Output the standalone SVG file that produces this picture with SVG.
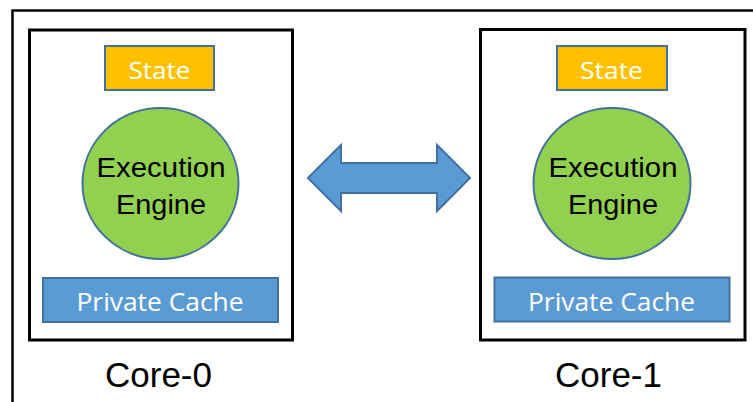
<svg xmlns="http://www.w3.org/2000/svg" width="753" height="402" viewBox="0 0 753 402">
<style>
.frame{fill:none;stroke:#000;stroke-width:2.5}
.core{fill:#fff;stroke:#000;stroke-width:3}
.state{fill:#FFC000;stroke:#41719C;stroke-width:2}
.engine{fill:#92D050;stroke:#41719C;stroke-width:2}
.cache{fill:#5B9BD5;stroke:#41719C;stroke-width:2}
.wt{fill:#fff;font-family:"Open Sans","Noto Sans",sans-serif;text-anchor:middle}
.bt{fill:#000;font-family:"Liberation Sans",Arial,sans-serif;text-anchor:middle}
.arrow{fill:#5B9BD5;stroke:#41719C;stroke-width:2;stroke-linejoin:miter}
</style>
<rect width="753" height="402" fill="#fff"/>
<path class="frame" d="M12.5 402 V10.5 H753"/>
<g id="core0">
<rect class="core" x="29.5" y="30" width="263" height="310"/>
<g id="state0"><rect class="state" x="105" y="46" width="109" height="44"/><text class="wt" x="159.5" y="78.5" font-size="23.5" textLength="62" lengthAdjust="spacingAndGlyphs">State</text></g>
<g id="engine0"><ellipse class="engine" cx="160.5" cy="183.5" rx="78" ry="75.5"/><text class="bt" x="161" y="177" font-size="28" textLength="129" lengthAdjust="spacingAndGlyphs">Execution</text><text class="bt" x="161" y="214" font-size="28" textLength="90" lengthAdjust="spacingAndGlyphs">Engine</text></g>
<g id="cache0"><rect class="cache" x="43" y="278" width="235" height="44"/><text class="wt" x="160" y="310.5" font-size="25" textLength="167" lengthAdjust="spacingAndGlyphs">Private Cache</text></g>
<text class="bt" x="158.5" y="387" font-size="35">Core-0</text>
</g>
<g id="core1">
<rect class="core" x="480.5" y="29.5" width="264.5" height="310.5"/>
<g id="state1"><rect class="state" x="557" y="46" width="110" height="44"/><text class="wt" x="611.5" y="78.5" font-size="23.5" textLength="63" lengthAdjust="spacingAndGlyphs">State</text></g>
<g id="engine1"><ellipse class="engine" cx="612" cy="183.5" rx="78.5" ry="75.5"/><text class="bt" x="613" y="177" font-size="28" textLength="129" lengthAdjust="spacingAndGlyphs">Execution</text><text class="bt" x="613" y="214" font-size="28" textLength="90" lengthAdjust="spacingAndGlyphs">Engine</text></g>
<g id="cache1"><rect class="cache" x="494.5" y="277.5" width="235" height="44"/><text class="wt" x="611.5" y="310.5" font-size="25" textLength="167" lengthAdjust="spacingAndGlyphs">Private Cache</text></g>
<text class="bt" x="608.5" y="387" font-size="35">Core-1</text>
</g>
<g id="connectors">
<path class="arrow" d="M308 178 L341 145 L341 163 L437 163 L437 145 L470 178 L437 211 L437 193 L341 193 L341 211 Z"/>
</g>
</svg>
